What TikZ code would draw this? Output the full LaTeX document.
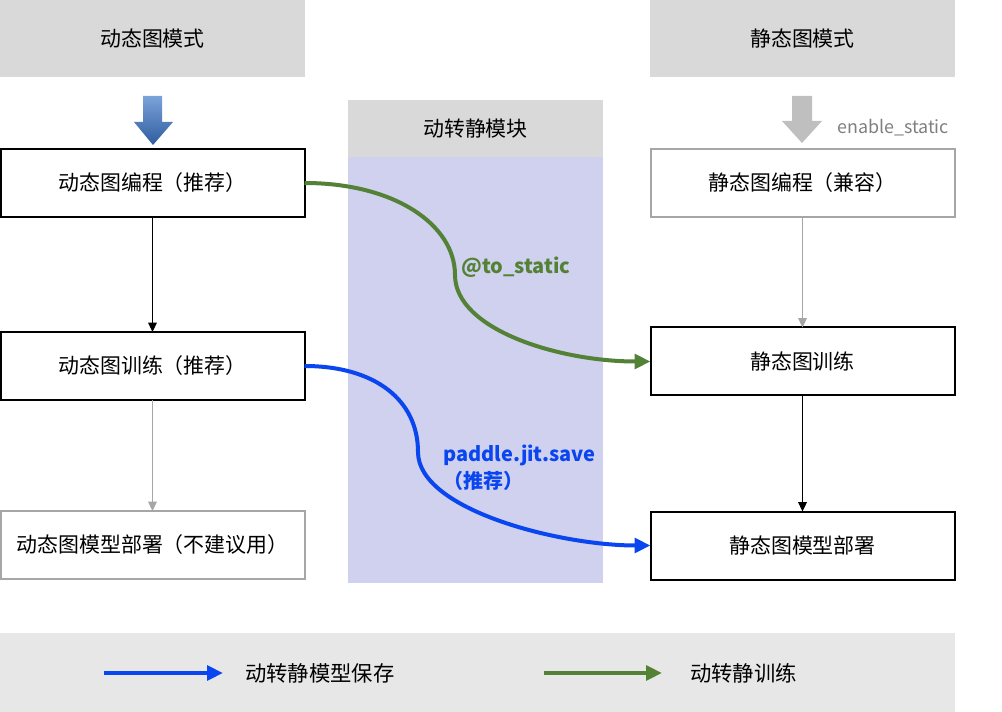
\documentclass[tikz,border=0pt]{standalone}
\usepackage{fontspec}
\setmainfont{Noto Sans CJK SC}
\usetikzlibrary{arrows.meta}
\definecolor{hdr}{HTML}{D9D9D9}
\definecolor{lav}{HTML}{CFD1EE}
\definecolor{leg}{HTML}{E7E7E7}
\definecolor{gbord}{HTML}{A6A6A6}
\definecolor{grn}{HTML}{538135}
\definecolor{blu}{HTML}{0A46F0}
\definecolor{etxt}{HTML}{7F7F7F}
\definecolor{arrtop}{HTML}{7BA3DA}
\definecolor{arrbot}{HTML}{2E5C9F}
\begin{document}
\begin{tikzpicture}[x=0.75pt,y=-0.75pt,
  txt/.style={font=\fontsize{15.7}{18}\selectfont},
  box/.style={txt, draw=black, line width=1.5pt, minimum width=228pt, minimum height=51pt, inner sep=0pt, outer sep=0pt},
  gbox/.style={box, draw=gbord},
  hdrbox/.style={txt, fill=hdr, inner sep=0pt, outer sep=0pt},
  thin/.style={line width=0.75pt, -{Triangle[length=7pt,width=6.5pt]}},
  curve/.style={line width=3pt, -{Triangle[length=12pt,width=11pt]}},
  clbl/.style={font=\fontsize{15}{17}\selectfont\bfseries, inner sep=0pt}]
\useasboundingbox (0,0) rectangle (1002,712);
% headers
\node[hdrbox, minimum width=228.75pt, minimum height=57.75pt] (hl) at (152.5,38.5) {动态图模式};
\node[hdrbox, minimum width=228.75pt, minimum height=57.75pt] (hr) at (802.5,38.5) {静态图模式};
\fill[lav] (348,157) rectangle (603,583);
\node[hdrbox, minimum width=191.25pt, minimum height=42.75pt] (hm) at (475.5,128.5) {动转静模块};
% legend background
\fill[leg] (0,633) rectangle (955,712);
% top arrows
\shade[top color=arrtop, bottom color=arrbot] (143,96) -- (162,96) -- (162,122) -- (173,122) -- (153,145) -- (134,122) -- (143,122) -- cycle;
\fill[black!25] (792,96) -- (812,96) -- (812,121) -- (822,121) -- (802,143) -- (782,121) -- (792,121) -- cycle;
\node[etxt, font=\fontsize{13.4}{15}\selectfont, anchor=west, inner sep=0pt] (es) at (837,128) {enable\_static};
% boxes
\node[box] (l1) at (152.5,183) {动态图编程（推荐）};
\node[box] (l2) at (152.5,366) {动态图训练（推荐）};
\node[gbox] (l3) at (152.5,545) {动态图模型部署（不建议用）};
\node[gbox] (r1) at (802.5,183) {静态图编程（兼容）};
\node[box] (r2) at (802.5,361.5) {静态图训练};
\node[box] (r3) at (802.5,545.5) {静态图模型部署};
% vertical arrows
\draw[thin, black] (l1) -- (l2);
\draw[thin, gbord] (l2) -- (l3);
\draw[thin, gbord] (r1) -- (r2);
\draw[thin, black] (r2) -- (r3);
% curves
\coordinate (gm) at (455,275);
\coordinate (bm) at (418,452);
\draw[curve, grn] (l1.east) .. controls (395,183) and (455,225) .. (gm) .. controls (455,330) and (560,361.5) .. (r2.west);
\draw[curve, blu] (l2.east) .. controls (375,366) and (418,400) .. (bm) .. controls (418,510) and (560,545.5) .. (r3.west);
\node[clbl, grn, anchor=west] (gl) at (461,267) {@to\_static};
\node[clbl, blu, anchor=west] (bl1) at (443,455) {paddle.jit.save};
\node[clbl, blu, anchor=west] (bl2) at (443,481) {（推荐）};
% legend
\coordinate (lb1) at (104,673);
\coordinate (lb2) at (223,673);
\coordinate (lg1) at (544,673);
\coordinate (lg2) at (662,673);
\draw[curve, blu] (lb1) -- (lb2);
\draw[curve, grn] (lg1) -- (lg2);
\node[txt, anchor=west, inner sep=0pt, font=\fontsize{16}{18}\selectfont] (lt1) at (245,673) {动转静模型保存};
\node[txt, anchor=west, inner sep=0pt, font=\fontsize{16}{18}\selectfont] (lt2) at (690,673) {动转静训练};
\end{tikzpicture}
\end{document}
